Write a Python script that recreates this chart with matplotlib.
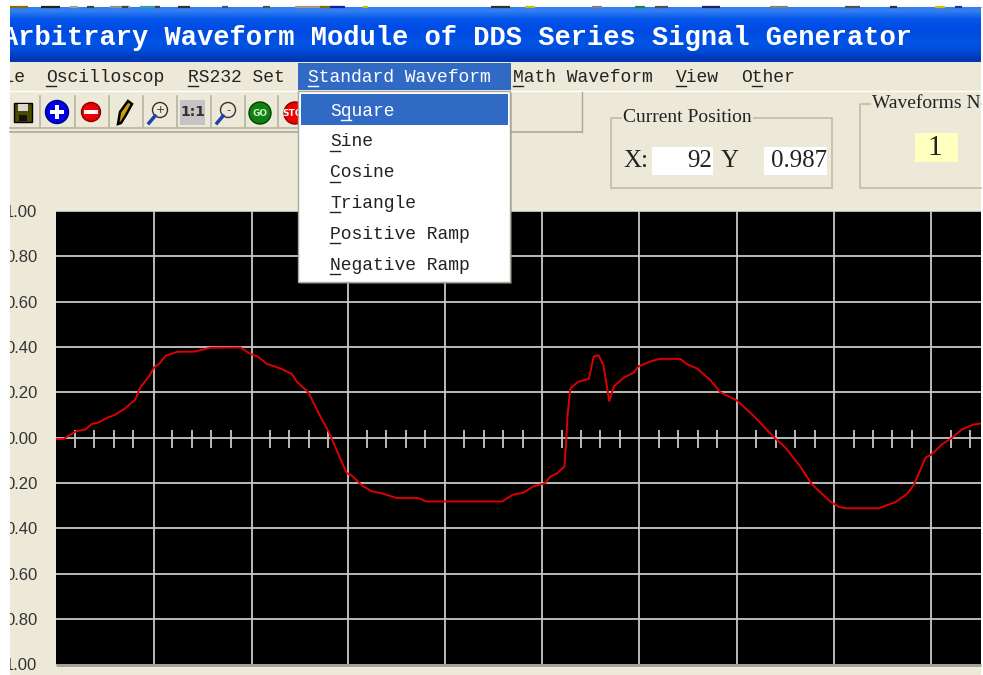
import numpy as np
import matplotlib
matplotlib.use('Agg')
import matplotlib.pyplot as plt
from matplotlib.patches import Rectangle, Circle, Polygon

# --- DATA ---
wave_x = [1, 8, 13, 21, 31, 37, 44, 53, 61, 71, 82, 87, 97, 101, 107, 113, 125, 143, 159, 190,
          200, 208, 217, 231, 243, 248, 260, 263, 272, 281, 287, 299, 304, 315, 325, 335, 351,
          373, 381, 459, 470, 481, 491, 503, 508, 515, 523, 525, 526, 529, 537, 548, 553, 558,
          563, 569, 574, 584, 594, 599, 611, 621, 642, 649, 659, 673, 683, 700, 717, 739, 750,
          765, 777, 796, 805, 813, 846, 863, 875, 882, 894, 900, 911, 921, 931, 943, 951]
wave_y = [-0.006, -0.006, 0.007, 0.028, 0.037, 0.060, 0.067, 0.088, 0.101, 0.128, 0.168, 0.221,
          0.276, 0.309, 0.328, 0.361, 0.379, 0.380, 0.397, 0.398, 0.370, 0.358, 0.326, 0.306,
          0.281, 0.247, 0.199, 0.172, 0.095, 0.024, -0.036, -0.155, -0.165, -0.211, -0.236,
          -0.245, -0.266, -0.266, -0.281, -0.281, -0.251, -0.242, -0.214, -0.201, -0.173,
          -0.158, -0.127, 0.001, 0.091, 0.217, 0.247, 0.259, 0.358, 0.364, 0.321, 0.162, 0.228,
          0.265, 0.287, 0.314, 0.336, 0.348, 0.348, 0.324, 0.306, 0.254, 0.201, 0.165, 0.098,
          -0.001, -0.043, -0.125, -0.204, -0.281, -0.305, -0.311, -0.311, -0.284, -0.248,
          -0.208, -0.088, -0.074, -0.029, -0.001, 0.036, 0.058, 0.063]

y_ticks = [1.0, 0.8, 0.6, 0.4, 0.2, 0.0, -0.2, -0.4, -0.6, -0.8, -1.0]
y_labels = ['1.00', '0.80', '0.60', '0.40', '0.20', '0.00', '0.20', '0.40', '0.60', '0.80', '1.00']
x_grid = [101, 202, 300.5, 400, 500, 600, 700, 800, 900]

title_text = 'Arbitrary Waveform Module of DDS Series Signal Generator'
menu_bar = ['File', 'Oscilloscop', 'RS232 Set', 'Standard Waveform', 'Math Waveform', 'View', 'Other']
menu_items = ['Square', 'Sine', 'Cosine', 'Triangle', 'Positive Ramp', 'Negative Ramp']

# restos da janela de tras, na faixa do topo
strip_x0 = [10, 41, 70, 87, 110, 122, 140, 155, 178, 222, 263, 295, 320, 330, 363, 491, 525, 592,
            635, 655, 702, 770, 845, 890, 935, 955]
strip_x1 = [28, 60, 78, 94, 130, 128, 158, 160, 190, 228, 270, 325, 342, 345, 368, 510, 535, 602,
            645, 668, 720, 788, 860, 897, 945, 962]
strip_c = ['#807000', '#202020', '#A0A0A0', '#404040', '#909090', '#404040', '#30A0A0', '#404040',
           '#303030', '#405080', '#505050', '#A09880', '#807000', '#1020A0', '#C0C000', '#303030',
           '#C0C000', '#808080', '#208040', '#505050', '#202060', '#808080', '#505050', '#303030',
           '#D0C000', '#2030A0']

W, H = 983, 675
WIN_R = 981
BG = '#ECE9D8'
MONO = 'Liberation Mono'
SERIF = 'Liberation Serif'
CW = 10.85

fig = plt.figure(figsize=(W / 100, H / 100), dpi=100, facecolor='white')


def ax_pixels(x0, y0, x1, y1):
    """Eixo posicionado em pixels da imagem (origem no topo)."""
    return [x0 / W, 1 - y1 / H, (x1 - x0) / W, (y1 - y0) / H]


# --- JANELA (fundo, titulo, menu, barra de ferramentas) ---
ui = fig.add_axes([0, 0, 1, 1], zorder=0)
ui.axis('off')
grad = np.array([[0.20, 0.50, 0.95], [0.02, 0.34, 0.92], [0.0, 0.30, 0.90], [0.0, 0.30, 0.88],
                 [0.0, 0.33, 0.90], [0.0, 0.30, 0.85], [0.0, 0.22, 0.72]])[:, None, :]
ui.imshow(grad, extent=(10, WIN_R, 62, 7.5), aspect='auto', interpolation='bilinear', zorder=1)
ui.set_xlim(0, W)
ui.set_ylim(H, 0)
ui.add_patch(Rectangle((10, 62), WIN_R - 10, H - 62, fc=BG, ec='none', zorder=0.5))
ui.hlines([6.5] * len(strip_x0), strip_x0, strip_x1, colors=strip_c, lw=1.6, zorder=1)
ui.plot([10, WIN_R], [7, 7], color='#B0B0A8', lw=0.8, zorder=0.8)

win_clip = Rectangle((10, 0), WIN_R - 10, H, transform=ui.transData)

t = ui.text(1.5, 38, title_text, family=MONO, fontsize=19.5, fontweight='bold', color='white',
            va='center', ha='left', zorder=2)
t.set_clip_path(win_clip)
t.set_clip_on(True)

ui.plot([10, WIN_R], [90.5, 90.5], color='white', lw=1, zorder=2)

menu_x = [-18, 46, 188, 308, 513, 676, 741]
under = [0, 0, 0, 0, 0, 0, 1]
ui.add_patch(Rectangle((298, 63), 213, 27, fc='#316AC5', ec='none', zorder=2))
for nome, mx, u in zip(menu_bar, menu_x, under):
    cor = 'white' if nome == 'Standard Waveform' else '#222222'
    txt = ui.text(mx, 77, nome, family=MONO, fontsize=13, color=cor, va='center', zorder=3)
    txt.set_clip_path(win_clip)
    txt.set_clip_on(True)
    if mx > 0:
        ui.plot([mx + u * CW, mx + (u + 1) * CW - 1], [86, 86], color=cor, lw=1, zorder=3)

# barra de ferramentas
ui.plot([10, 582], [131.5, 131.5], color='#ACA899', lw=1.2, zorder=2)
ui.plot([581.5, 581.5], [92, 131.5], color='#ACA899', lw=1, zorder=2)
for bx in [40, 75, 109, 143, 177, 211, 245, 278]:
    ui.plot([bx, bx], [96, 127], color='#B8B4A0', lw=1.2, zorder=2)
ui.plot([10, 300], [127.5, 127.5], color='#B8B4A0', lw=1.2, zorder=2)
ui.add_patch(Rectangle((14, 103), 18, 19, fc='#4A4A00', ec='black', lw=1, zorder=3))
ui.add_patch(Rectangle((18, 104), 10, 7, fc='#D8D8D0', ec='none', zorder=4))
ui.add_patch(Rectangle((19, 115), 8, 6, fc='#101010', ec='none', zorder=4))
ui.add_patch(Circle((57, 112), 11.5, fc='#0000EE', ec='#000080', lw=1, zorder=3))
ui.add_patch(Rectangle((50, 110), 14, 4, fc='white', ec='none', zorder=4))
ui.add_patch(Rectangle((55, 105), 4, 14, fc='white', ec='none', zorder=4))
ui.add_patch(Circle((91, 112), 9.5, fc='#EE0000', ec='#800000', lw=1, zorder=3))
ui.add_patch(Rectangle((84, 110), 14, 4, fc='white', ec='none', zorder=4))
ui.add_patch(Polygon([[118, 124], [120, 112], [128, 101], [132, 104], [126, 115], [121, 123]],
                     fc='#C8A000', ec='black', lw=1.8, zorder=3))
for cx, sinal in [(160, '+'), (228, '-')]:
    ui.add_patch(Circle((cx, 110), 7.5, fc='none', ec='#333333', lw=1, zorder=3))
    ui.plot([cx - 5, cx - 11], [116, 123], color='#2040B0', lw=2.5, zorder=3)
    ui.text(cx, 110, sinal, fontsize=8, color='#333333', ha='center', va='center', zorder=4)
ui.add_patch(Rectangle((180, 100), 25, 25, fc='#C4C4C4', ec='none', zorder=3))
ui.text(192.5, 112, '1:1', family='DejaVu Sans', fontweight='bold', fontsize=10, color='#333333',
        ha='center', va='center', zorder=4)
ui.add_patch(Circle((260, 113), 11, fc='#108010', ec='#004000', lw=1, zorder=3))
ui.text(260, 113, 'GO', fontsize=6.5, color='#D0F0D0', fontweight='bold', ha='center', va='center', zorder=4)
ui.add_patch(Circle((295, 113), 11, fc='#EE0000', ec='#800000', lw=1, zorder=3))
ui.text(293, 113, 'STO', fontsize=6.5, color='white', fontweight='bold', ha='center', va='center', zorder=4)

# caixas "Current Position" e "Waveforms N"
ui.add_patch(Rectangle((610.5, 117.5), 221, 70, fc='none', ec='#C0BCA8', lw=1.2, zorder=2))
ui.text(623, 117, 'Current Position', family=SERIF, fontsize=14, color='#222222', va='center',
        zorder=3).set_bbox(dict(fc=BG, ec='none', pad=1))
ui.text(623, 161, 'X:', family=SERIF, fontsize=18, color='#222222', va='center', zorder=3)
ui.add_patch(Rectangle((652, 147), 61, 28, fc='white', ec='none', zorder=2))
ui.text(712, 161, '92', family=SERIF, fontsize=18, color='#222222', ha='right', va='center', zorder=3)
ui.text(721, 161, 'Y', family=SERIF, fontsize=18, color='#222222', va='center', zorder=3)
ui.add_patch(Rectangle((764, 147), 63, 28, fc='white', ec='none', zorder=2))
ui.text(827, 161, '0.987', family=SERIF, fontsize=18, color='#222222', ha='right', va='center', zorder=3)
ui.plot([WIN_R, 859.5, 859.5, WIN_R], [187.5, 187.5, 103.5, 103.5], color='#C0BCA8', lw=1.2, zorder=2)
wf = ui.text(872, 103, 'Waveforms N', family=SERIF, fontsize=14, color='#222222', va='center', zorder=3)
wf.set_bbox(dict(fc=BG, ec='none', pad=1))
wf.set_clip_path(win_clip)
wf.set_clip_on(True)
ui.add_patch(Rectangle((915, 133), 43, 29, fc='#FFFFC0', ec='none', zorder=2))
ui.text(934.5, 148, '1', family=SERIF, fontsize=21, color='#222222', ha='center', va='center', zorder=3)

# --- GRAFICO ---
ax = fig.add_axes(ax_pixels(55.5, 211, WIN_R, 664.5), zorder=1, facecolor='black')
ax.set_xlim(0, 951)
ax.set_ylim(-1, 1)
ax.set_xticks(x_grid)
ax.set_yticks(y_ticks)
ax.set_yticklabels(y_labels, family='Liberation Sans', fontsize=12, color='#333333')
ax.tick_params(axis='x', length=0, labelbottom=False)
ax.tick_params(axis='y', length=0, pad=13)
ax.grid(True, color='#C8C8C8', lw=1.3)
ax.set_axisbelow(True)
for s in ax.spines.values():
    s.set_visible(False)
ax.spines['bottom'].set_visible(True)
ax.spines['bottom'].set_color('#A0A090')
ax.spines['bottom'].set_linewidth(2)
ax.spines['bottom'].set_capstyle('butt')

# marcas menores sobre a linha do zero
minor = [m for m in np.arange(20, 951, 20) if m % 100 != 0]
ax.vlines(minor, -0.044, 0.036, color='#C8C8C8', lw=1.3, zorder=2)
ax.plot(wave_x, wave_y, color='#DD0000', lw=1.4, zorder=3)

for lab in ax.get_yticklabels():
    lab.set_clip_path(Rectangle((10, 0), W, H, transform=ui.transData))
    lab.set_clip_on(True)

# --- MENU SUSPENSO ---
top = fig.add_axes([0, 0, 1, 1], zorder=2)
top.set_xlim(0, W)
top.set_ylim(H, 0)
top.axis('off')
top.add_patch(Rectangle((300, 93), 212, 191, fc='#808080', ec='none', alpha=0.45))
top.add_patch(Rectangle((298, 91), 212, 191, fc='white', ec='#ACA899', lw=1))
top.add_patch(Rectangle((301, 94), 207, 31, fc='#316AC5', ec='none'))
for i, nome in enumerate(menu_items):
    yy = 111 + i * 30.8
    cor = 'white' if i == 0 else '#222222'
    top.text(330, yy, nome, family=MONO, fontsize=13, color=cor, va='center')
    # em "Square" o sublinhado fica no q
    u0 = 330 + CW if i == 0 else 330
    top.plot([u0, u0 + CW - 1], [yy + 9, yy + 9], color=cor, lw=1)

fig.savefig('out.png', dpi=100, facecolor=fig.get_facecolor())
